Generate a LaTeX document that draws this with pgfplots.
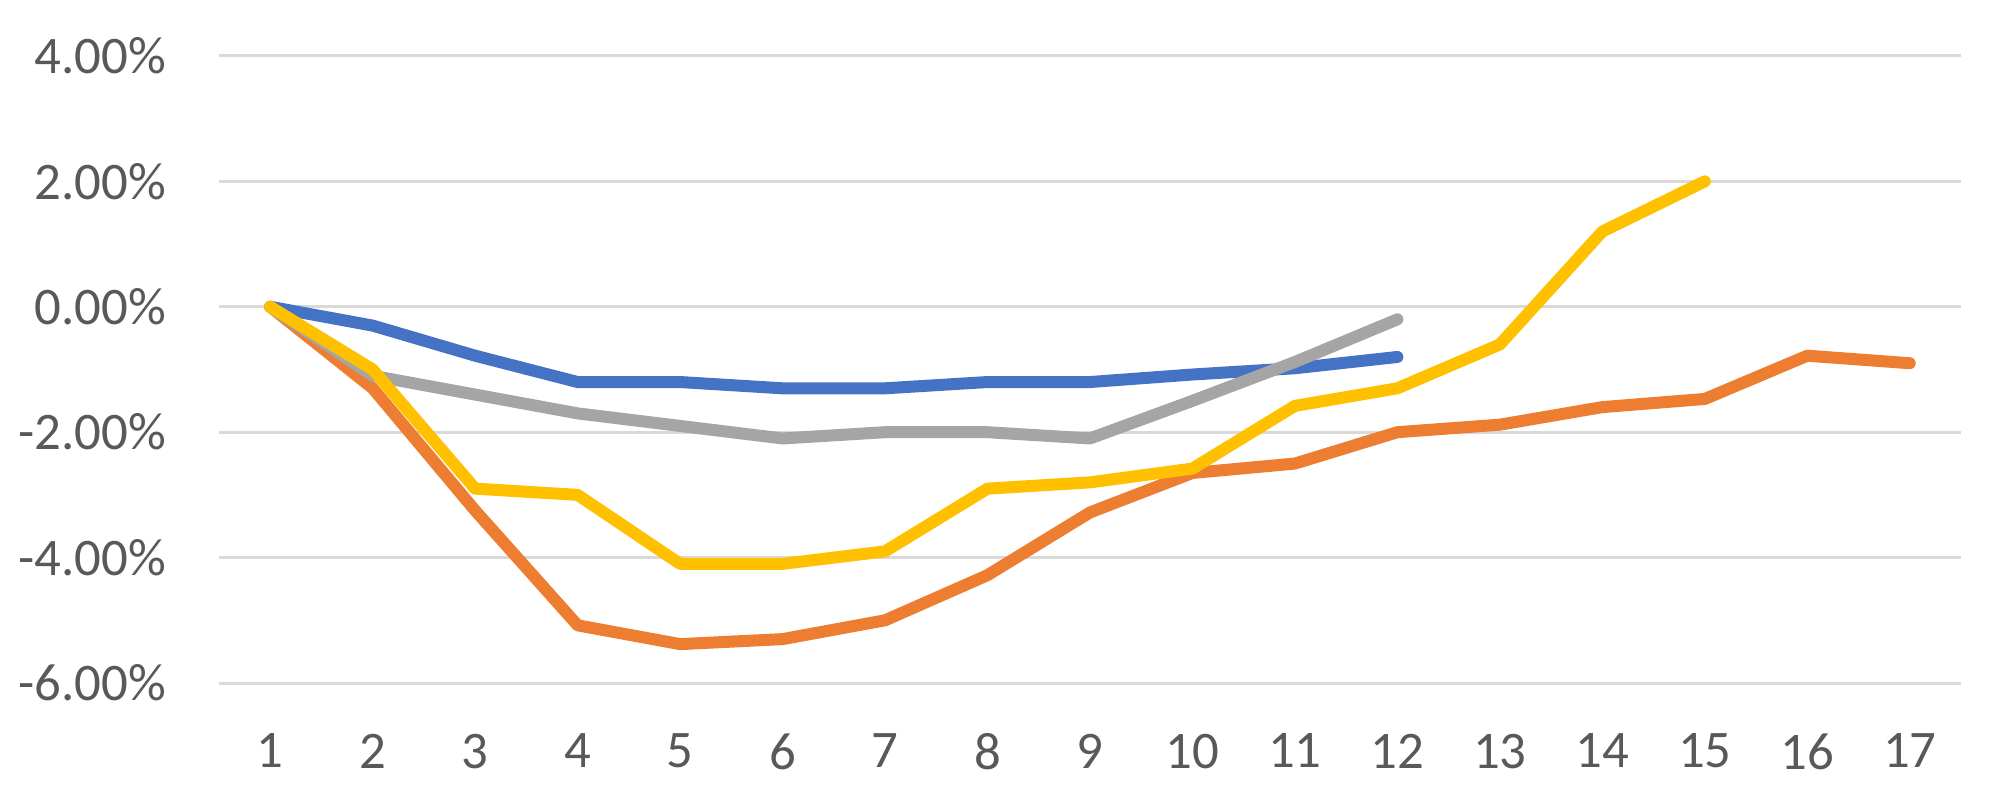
\documentclass[border=0pt]{standalone}
\usepackage{pgfplots}
\pgfplotsset{compat=1.18}
\usepackage{fontspec}
\setmainfont{Carlito}
\definecolor{sblue}{HTML}{4472C4}
\definecolor{sorange}{HTML}{ED7D31}
\definecolor{sgray}{HTML}{A5A5A5}
\definecolor{syellow}{HTML}{FFC000}
\definecolor{txt}{HTML}{595959}
\definecolor{grd}{HTML}{D9D9D9}
\begin{document}
\begin{tikzpicture}
\useasboundingbox (0,0) rectangle (501.5pt,201.5pt);
\begin{axis}[
  at={(54.75pt,30.75pt)}, anchor=south west,
  scale only axis, width=435.5pt, height=156.75pt,
  xmin=0.5, xmax=17.5, ymin=-6, ymax=4,
  xtick={1,...,17}, ytick={-6,-4,...,4},
  ymajorgrids, grid style={grd, line width=0.75pt},
  axis line style={draw=none}, major tick length=0pt,
  font=\fontsize{13.2pt}{16pt}\selectfont,
  /pgf/number format/assume math mode=true,
  tick label style={text=txt},
  yticklabel={\pgfmathprintnumber[fixed,fixed zerofill,precision=2]{\tick}\%},
  yticklabel style={anchor=east, inner sep=0pt, xshift=-13pt},
  xticklabel style={anchor=north, inner sep=0pt, yshift=-12.5pt},
  every axis plot/.style={line width=3pt, line cap=round, line join=round},
  clip=false,
]
\addplot[sblue] coordinates {(1,0) (2,-0.30) (3,-0.78) (4,-1.2) (5,-1.2) (6,-1.3) (7,-1.3) (8,-1.2) (9,-1.2) (10,-1.08) (11,-0.98) (12,-0.8)};
\addplot[sorange] coordinates {(1,0) (2,-1.3) (3,-3.25) (4,-5.08) (5,-5.38) (6,-5.3) (7,-5.0) (8,-4.28) (9,-3.28) (10,-2.65) (11,-2.5) (12,-2.0) (13,-1.88) (14,-1.6) (15,-1.47) (16,-0.78) (17,-0.9)};
\addplot[sgray] coordinates {(1,0) (2,-1.1) (3,-1.4) (4,-1.7) (5,-1.9) (6,-2.1) (7,-2.0) (8,-2.0) (9,-2.1) (10,-1.5) (11,-0.88) (12,-0.2)};
\addplot[syellow] coordinates {(1,0) (2,-1.0) (3,-2.9) (4,-3.0) (5,-4.1) (6,-4.1) (7,-3.9) (8,-2.9) (9,-2.8) (10,-2.58) (11,-1.58) (12,-1.3) (13,-0.6) (14,1.2) (15,2.0)};
\end{axis}
\end{tikzpicture}
\end{document}
